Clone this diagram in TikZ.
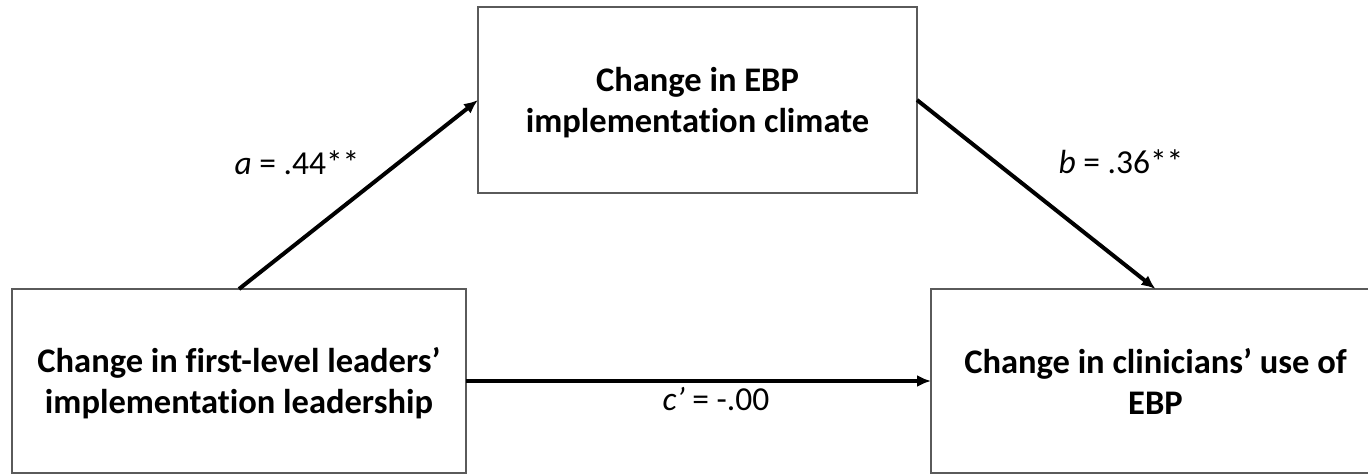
\documentclass[tikz,border=0pt]{standalone}
\usepackage{fontspec}
\setmainfont[Ligatures=NoCommon]{Carlito}
\usetikzlibrary{arrows.meta}
\definecolor{boxgray}{HTML}{5A5A5A}
\begin{document}
\begin{tikzpicture}[x=1pt,y=-1pt,
  varbox/.style={draw=boxgray, line width=2pt, rectangle, inner sep=0pt, outer sep=0pt,
    align=center, font=\fontsize{34.5}{41}\selectfont\bfseries},
  effect/.style={line width=4pt, -{Latex[length=14pt,width=12pt]}},
  coef/.style={font=\fontsize{33.5}{40}\selectfont, anchor=base}]
\useasboundingbox (0,0) rectangle (1368,476);
\clip (0,0) rectangle (1368,476);
% variables
\node[varbox, minimum width=454pt, minimum height=184pt] (lead) at (239,381)
  {\rule{0pt}{30pt}Change in first-level leaders’\\implementation leadership};
\node[varbox, minimum width=439pt, minimum height=186pt] (clim) at (697.5,100)
  {\rule{0pt}{30pt}Change in EBP\\implementation climate};
\node[varbox, minimum width=449pt, minimum height=184pt] (use) at (1155.5,381)
  {Change in clinicians’ use of\\EBP};
% paths
\draw[effect] (lead.north) -- (clim.west);
\draw[effect] (clim.east) -- (use.north);
\draw[effect] (lead.east) -- (use.west);
% path coefficients
\node[coef] (la) at (297,175) {\textit{a} = .44**};
\node[coef] (lb) at (1121,173) {\textit{b} = .36**};
\node[coef] (lc) at (716,410) {\textit{c’} = -.00};
\end{tikzpicture}
\end{document}
